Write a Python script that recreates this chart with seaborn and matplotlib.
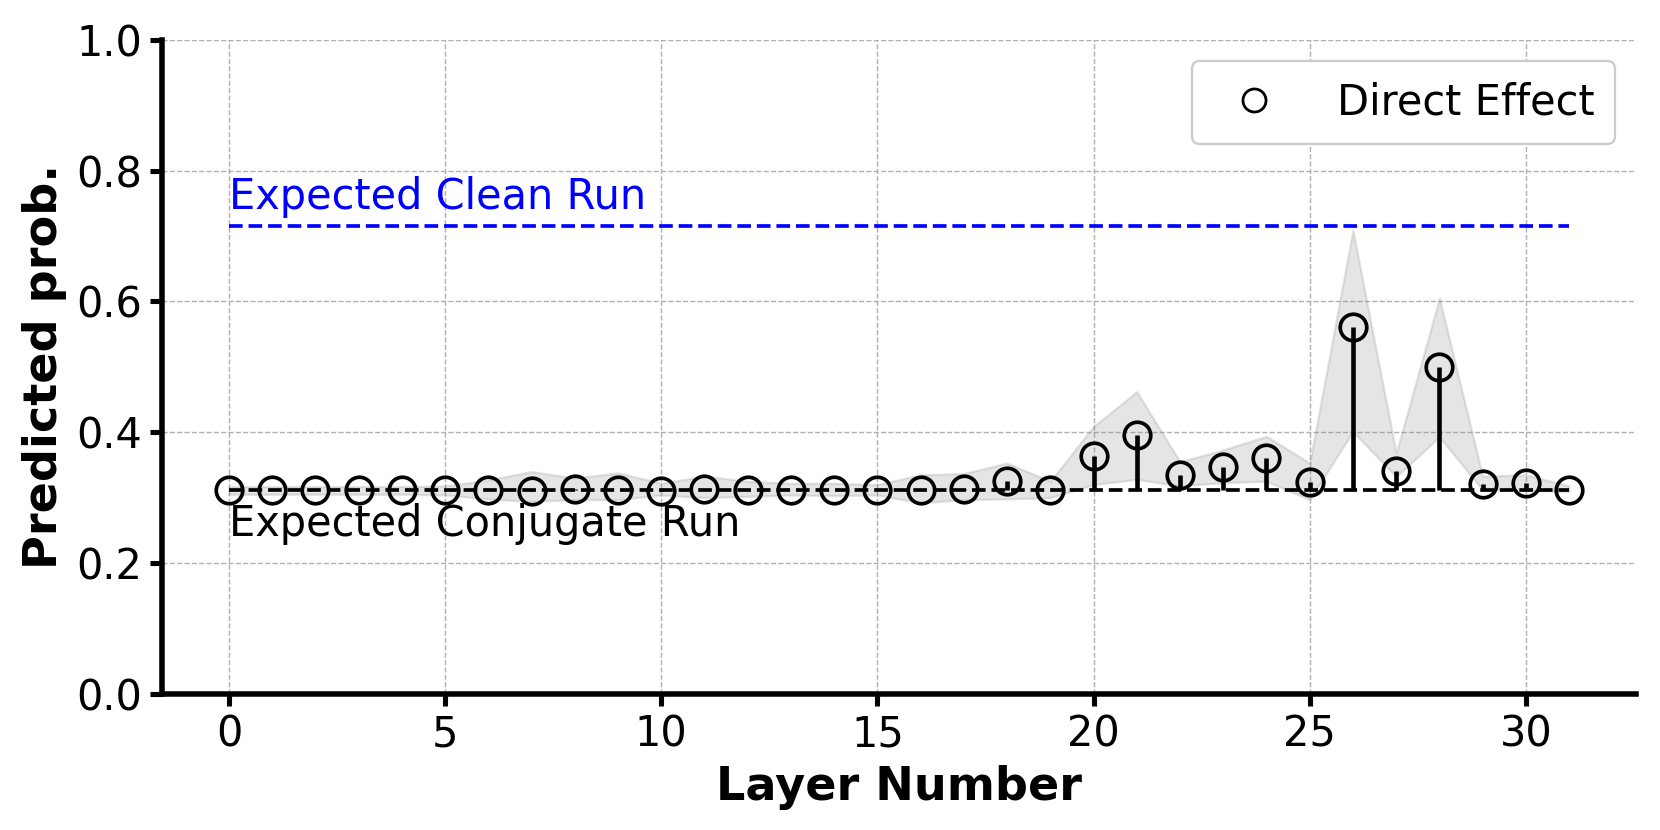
"""Direct effect per layer with clean / conjugate reference lines."""

import matplotlib

matplotlib.use("Agg")
import matplotlib.pyplot as plt
import numpy as np
import seaborn as sns
from matplotlib.lines import Line2D

layers = list(range(32))
direct_effect = [
    0.311, 0.312, 0.312, 0.312, 0.311, 0.312, 0.311, 0.310, 0.313, 0.312,
    0.310, 0.314, 0.311, 0.312, 0.311, 0.312, 0.312, 0.313, 0.325, 0.311,
    0.364, 0.396, 0.334, 0.347, 0.360, 0.324, 0.561, 0.341, 0.500, 0.321,
    0.323, 0.312,
]
band_upper = [
    0.317, 0.317, 0.317, 0.317, 0.317, 0.318, 0.327, 0.340, 0.330, 0.338,
    0.322, 0.333, 0.325, 0.322, 0.322, 0.320, 0.335, 0.337, 0.353, 0.325,
    0.409, 0.462, 0.355, 0.373, 0.394, 0.353, 0.709, 0.368, 0.605, 0.333,
    0.335, 0.318,
]
band_lower = [
    0.305, 0.305, 0.305, 0.305, 0.305, 0.304, 0.298, 0.294, 0.297, 0.297,
    0.304, 0.300, 0.302, 0.304, 0.303, 0.304, 0.292, 0.297, 0.298, 0.300,
    0.320, 0.328, 0.318, 0.323, 0.325, 0.297, 0.401, 0.332, 0.393, 0.312,
    0.312, 0.309,
]
clean_run = 0.715
conjugate_run = 0.312

sns.set_style("ticks", {
    "text.color": "black", "axes.labelcolor": "black", "axes.edgecolor": "black",
    "xtick.color": "black", "ytick.color": "black",
})
plt.rcParams["font.family"] = ["DejaVu Sans"]

fig, ax = plt.subplots(figsize=(10.006, 5.0), dpi=166)

ax.grid(True, linestyle="--", color="#b0b0b0", linewidth=0.6)
ax.fill_between(layers, band_lower, band_upper, color="gray", alpha=0.2, zorder=1)

ax.hlines(clean_run, layers[0], layers[-1], colors="blue", linestyles="--", linewidth=1.6, zorder=2)
ax.hlines(conjugate_run, layers[0], layers[-1], colors="black", linestyles="--", linewidth=1.6, zorder=2)
ax.vlines(layers, conjugate_run, direct_effect, colors="black", linewidth=2.0, zorder=3)

sns.lineplot(
    x=layers, y=direct_effect, ax=ax, linestyle="", marker="o",
    markersize=11.5, markerfacecolor="none", markeredgecolor="black",
    markeredgewidth=1.6, zorder=4,
)

ax.text(0, clean_run + 0.012, "Expected Clean Run", color="blue", fontsize=18, va="bottom", ha="left")
ax.text(0, 0.292, "Expected Conjugate Run", color="black", fontsize=18, va="top", ha="left")

handle = Line2D([], [], linestyle="", marker="o", markersize=10,
                markerfacecolor="none", markeredgecolor="black", markeredgewidth=1.2)
ax.legend([handle], ["Direct Effect"], loc="upper right", fontsize=18,
          handletextpad=1.0, borderpad=0.5, framealpha=1, fancybox=True)

ax.set_ylim(0, 1.0)
ax.set_yticks([0.0, 0.2, 0.4, 0.6, 0.8, 1.0])
ax.set_xticks([0, 5, 10, 15, 20, 25, 30])
ax.set_xlabel("Layer Number", fontsize=20, fontweight="bold")
ax.set_ylabel("Predicted prob.", fontsize=20, fontweight="bold")
ax.tick_params(labelsize=18, width=2.2, length=5)
for side in ["left", "bottom"]:
    ax.spines[side].set_linewidth(2.4)
sns.despine(ax=ax)

fig.subplots_adjust(left=0.0975, right=0.985, top=0.952, bottom=0.164)
fig.savefig("out.png", dpi=166)
plt.close(fig)
